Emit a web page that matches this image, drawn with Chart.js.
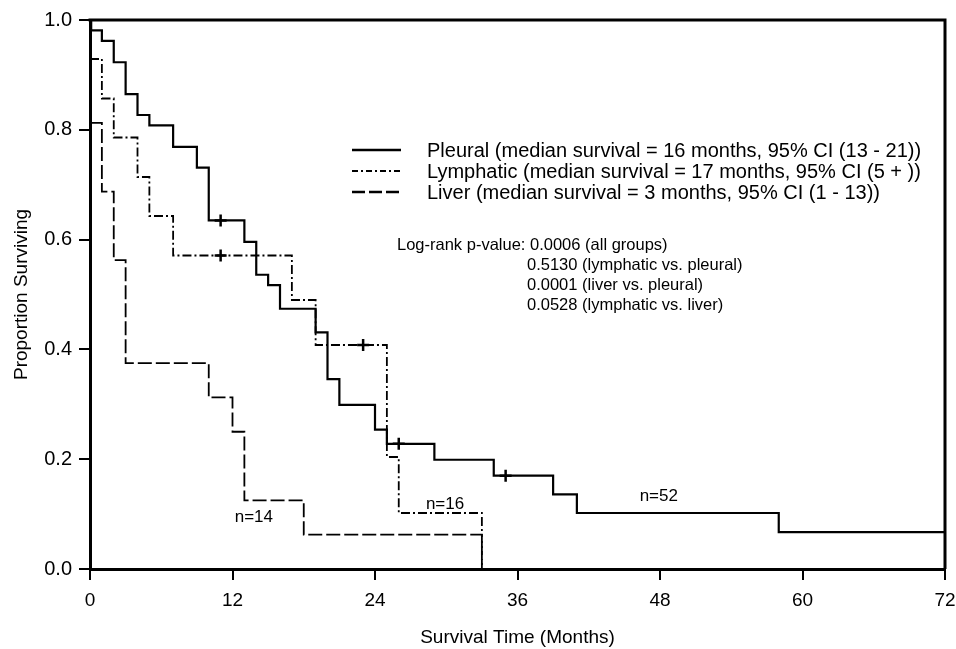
<!DOCTYPE html>
<html>
<head>
<meta charset="utf-8">
<script src="https://cdn.jsdelivr.net/npm/chart.js@4.4.1/dist/chart.umd.min.js"></script>
<style>
  html, body { margin: 0; padding: 0; background: #fff; }
</style>
</head>
<body>
<canvas id="kmChart" width="956" height="649"></canvas>
<script>
// Kaplan-Meier steps: survival value holds from each time onward
const pleuralTime = [0, 0.1, 1, 2, 3, 4, 5, 7, 9, 10, 13, 14, 15, 16, 19, 20, 21, 24, 25, 29, 34, 39, 41, 58, 72];
const pleuralSurv = [1.0, 0.981, 0.962, 0.923, 0.865, 0.827, 0.808, 0.769, 0.731, 0.635, 0.596, 0.536, 0.517, 0.474, 0.431, 0.346, 0.299, 0.254, 0.228, 0.199, 0.170, 0.136, 0.102, 0.067, 0.067];
const pleuralCensorTime = [11, 26, 35];
const pleuralCensorSurv = [0.635, 0.228, 0.170];

const lymphTime = [0, 1, 2, 4, 5, 7, 17, 19, 25, 26, 33];
const lymphSurv = [0.929, 0.857, 0.786, 0.714, 0.643, 0.571, 0.490, 0.408, 0.204, 0.102, 0];
const lymphCensorTime = [11, 23];
const lymphCensorSurv = [0.571, 0.408];

const liverTime = [0, 1, 2, 3, 10, 12, 13, 18, 33];
const liverSurv = [0.8125, 0.6875, 0.5625, 0.375, 0.3125, 0.25, 0.125, 0.0625, 0];

const xTicks = [0, 12, 24, 36, 48, 60, 72];
const yTicks = [0.0, 0.2, 0.4, 0.6, 0.8, 1.0];

const legendItems = [
    { text: 'Pleural (median survival = 16 months, 95% CI (13 - 21))', dash: [], width: 2.5 },
    { text: 'Lymphatic (median survival = 17 months, 95% CI (5 + ))', dash: [6, 3, 2, 3], width: 2 },
    { text: 'Liver (median survival = 3 months, 95% CI (1 - 13))', dash: [13, 4], width: 2.5 }
];
const pValueLines = [
    'Log-rank p-value: 0.0006 (all groups)',
    '0.5130 (lymphatic vs. pleural)',
    '0.0001 (liver vs. pleural)',
    '0.0528 (lymphatic vs. liver)'
];
// sample sizes, placed at (month, proportion)
const nLabels = [
    { text: 'n=14', x: 13.8, y: 0.095 },
    { text: 'n=16', x: 29.9, y: 0.118 },
    { text: 'n=52', x: 47.9, y: 0.133 }
];

const FONT = '"Liberation Sans", Arial, sans-serif';

function toPoints(xs, ys) {
    return xs.map((x, i) => ({ x: x, y: ys[i] }));
}

// frame, legend and text annotations
const annotate = {
    id: 'annotate',
    afterDatasetsDraw(chart) {
        const ctx = chart.ctx;
        const area = chart.chartArea;
        const xs = chart.scales.x, ys = chart.scales.y;
        ctx.save();
        ctx.strokeStyle = '#000';
        ctx.lineWidth = 3;
        ctx.beginPath();
        ctx.moveTo(area.left - 1.5, area.top);
        ctx.lineTo(area.right, area.top);
        ctx.lineTo(area.right, area.bottom);
        ctx.stroke();

        // legend
        ctx.font = '20px ' + FONT;
        ctx.fillStyle = '#000';
        ctx.textBaseline = 'middle';
        legendItems.forEach((item, i) => {
            const y = 150 + i * 21;
            ctx.setLineDash(item.dash);
            ctx.lineWidth = item.width;
            ctx.beginPath();
            ctx.moveTo(352, y);
            ctx.lineTo(401, y);
            ctx.stroke();
            ctx.setLineDash([]);
            ctx.fillText(item.text, 427, y + 1);
        });

        // log-rank p-values
        ctx.font = '16.5px ' + FONT;
        pValueLines.forEach((line, i) => {
            ctx.fillText(line, i === 0 ? 397 : 527, 245 + i * 20);
        });

        // sample sizes
        ctx.font = '17px ' + FONT;
        ctx.textAlign = 'center';
        nLabels.forEach(l => {
            ctx.fillText(l.text, xs.getPixelForValue(l.x), ys.getPixelForValue(l.y));
        });
        ctx.restore();
    }
};

new Chart(document.getElementById('kmChart'), {
    type: 'line',
    data: {
        datasets: [
            {
                label: 'Pleural',
                data: toPoints(pleuralTime, pleuralSurv),
                stepped: true,
                borderColor: '#000',
                borderWidth: 2.2,
                pointRadius: 0
            },
            {
                label: 'Lymphatic',
                data: toPoints(lymphTime, lymphSurv),
                stepped: true,
                borderColor: '#000',
                borderWidth: 1.8,
                borderDash: [9, 3, 2, 3],
                pointRadius: 0
            },
            {
                label: 'Liver',
                data: toPoints(liverTime, liverSurv),
                stepped: true,
                borderColor: '#000',
                borderWidth: 1.8,
                borderDash: [14, 4],
                pointRadius: 0
            },
            {
                label: 'Pleural censored',
                data: toPoints(pleuralCensorTime, pleuralCensorSurv),
                showLine: false,
                pointStyle: 'cross',
                pointRadius: 6,
                pointBorderWidth: 2.5,
                borderColor: '#000'
            },
            {
                label: 'Lymphatic censored',
                data: toPoints(lymphCensorTime, lymphCensorSurv),
                showLine: false,
                pointStyle: 'cross',
                pointRadius: 6,
                pointBorderWidth: 2.5,
                borderColor: '#000'
            }
        ]
    },
    options: {
        responsive: false,
        animation: false,
        devicePixelRatio: 1,
        layout: { padding: { top: 20, right: 11, left: 0, bottom: 0 } },
        plugins: {
            legend: { display: false },
            tooltip: { enabled: false }
        },
        scales: {
            x: {
                type: 'linear',
                min: 0,
                max: 72,
                afterFit: s => { s.height = 80; s.paddingLeft = 0; s.paddingRight = 0; },
                afterBuildTicks: s => { s.ticks = xTicks.map(v => ({ value: v })); },
                ticks: { color: '#000', font: { size: 19, family: FONT }, padding: 9, maxRotation: 0 },
                grid: { drawOnChartArea: false, color: '#000', lineWidth: 2, tickLength: 11 },
                border: { color: '#000', width: 3 },
                title: {
                    display: true,
                    text: 'Survival Time (Months)',
                    color: '#000',
                    font: { size: 19, family: FONT },
                    padding: { top: 0, bottom: 0 }
                }
            },
            y: {
                min: 0,
                max: 1,
                afterFit: s => { s.width = 90; s.paddingTop = 0; s.paddingBottom = 0; },
                afterBuildTicks: s => { s.ticks = yTicks.map(v => ({ value: v })); },
                ticks: {
                    color: '#000',
                    font: { size: 20, family: FONT },
                    padding: 7,
                    callback: v => v.toFixed(1)
                },
                grid: { drawOnChartArea: false, color: '#000', lineWidth: 2, tickLength: 11 },
                border: { color: '#000', width: 3 },
                title: {
                    display: true,
                    text: 'Proportion Surviving',
                    color: '#000',
                    font: { size: 19, family: FONT },
                    padding: { top: 10, bottom: 0 }
                }
            }
        }
    },
    plugins: [annotate]
});
</script>
</body>
</html>
